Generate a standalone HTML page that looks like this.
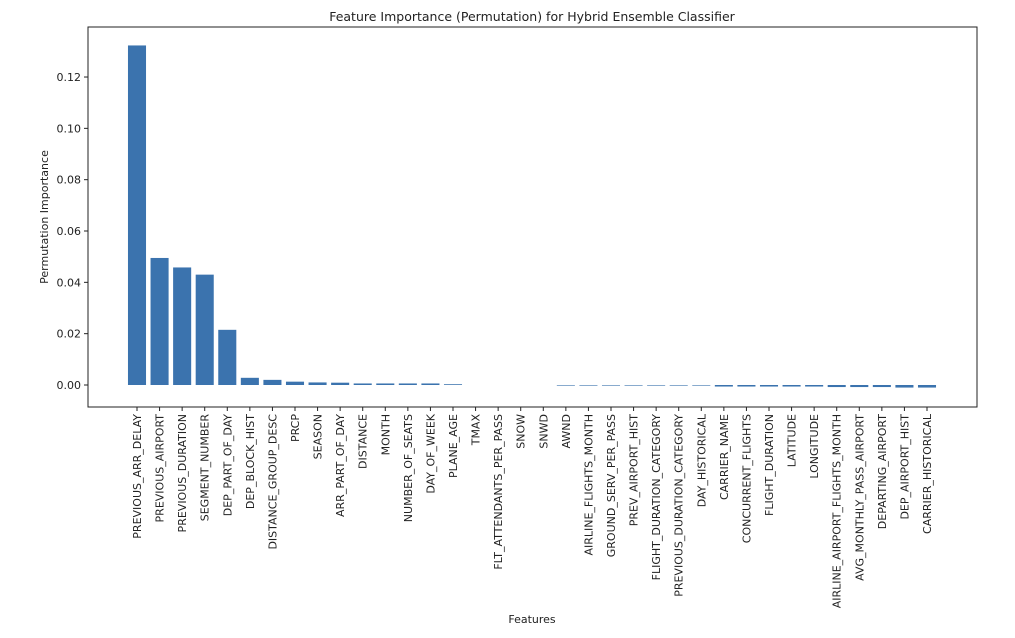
<!DOCTYPE html>
<html><head><meta charset="utf-8"><style>
body{margin:0;background:#fff;font-family:"Liberation Sans","DejaVu Sans",sans-serif;}
svg text{font-family:"DejaVu Sans","Liberation Sans",sans-serif;fill:#222;}
</style></head><body>
<svg id="chart" width="1015" height="633" xmlns="http://www.w3.org/2000/svg">
<text x="532" y="21" font-size="12.5" text-anchor="middle">Feature Importance (Permutation) for Hybrid Ensemble Classifier</text>
<rect x="88" y="27" width="889" height="380" fill="none" stroke="#222" stroke-width="1"/>
<g id="bars"></g><g id="yaxis"></g><g id="xaxis"></g>
<text transform="translate(48,217) rotate(-90)" font-size="11" text-anchor="middle">Permutation Importance</text>
<text x="532" y="623" font-size="11" text-anchor="middle">Features</text>
</svg>
<script>
const categories=["PREVIOUS_ARR_DELAY","PREVIOUS_AIRPORT","PREVIOUS_DURATION","SEGMENT_NUMBER","DEP_PART_OF_DAY","DEP_BLOCK_HIST","DISTANCE_GROUP_DESC","PRCP","SEASON","ARR_PART_OF_DAY","DISTANCE","MONTH","NUMBER_OF_SEATS","DAY_OF_WEEK","PLANE_AGE","TMAX","FLT_ATTENDANTS_PER_PASS","SNOW","SNWD","AWND","AIRLINE_FLIGHTS_MONTH","GROUND_SERV_PER_PASS","PREV_AIRPORT_HIST","FLIGHT_DURATION_CATEGORY","PREVIOUS_DURATION_CATEGORY","DAY_HISTORICAL","CARRIER_NAME","CONCURRENT_FLIGHTS","FLIGHT_DURATION","LATITUDE","LONGITUDE","AIRLINE_AIRPORT_FLIGHTS_MONTH","AVG_MONTHLY_PASS_AIRPORT","DEPARTING_AIRPORT","DEP_AIRPORT_HIST","CARRIER_HISTORICAL"];
const values=[0.1323,0.0495,0.0458,0.0430,0.0215,0.0028,0.0020,0.0013,0.0010,0.0009,0.0006,0.0006,0.0006,0.0006,0.0003,0,0,0,0,-0.0002,-0.0002,-0.0002,-0.0002,-0.0002,-0.0002,-0.0002,-0.0006,-0.0006,-0.0006,-0.0006,-0.0006,-0.0008,-0.0008,-0.0008,-0.0010,-0.0010];
const yTicks=[0.00,0.02,0.04,0.06,0.08,0.10,0.12];
const NS="http://www.w3.org/2000/svg";
function mk(t,a,p){const e=document.createElementNS(NS,t);for(const k in a)e.setAttribute(k,a[k]);p.appendChild(e);return e;}
const y=v=>385-v/0.02*51.33;
const x=i=>137+i*(927-137)/(categories.length-1);
const step=(927-137)/(categories.length-1), bw=step*0.8;
const gb=document.getElementById('bars'),gy=document.getElementById('yaxis'),gx=document.getElementById('xaxis');
values.forEach((v,i)=>{
 if(v===0)return;
 const h=Math.max(Math.abs(y(v)-y(0)),0.6);
 const r=mk('rect',{x:x(i)-bw/2,y:Math.min(y(v),y(0)),width:bw,height:h,fill:'#3b73ae'},gb);
 
 
});
yTicks.forEach(t=>{
 const yy=y(t);
 const l=mk('line',{x1:84,x2:88,y1:yy,y2:yy,stroke:'#222'},gy);
 
 
 const tx=mk('text',{x:81,y:yy+4,'font-size':'11','text-anchor':'end'},gy);
 tx.textContent=t.toFixed(2);
 
 
});
categories.forEach((c,i)=>{
 const xx=x(i);
 const l=mk('line',{x1:xx,x2:xx,y1:407,y2:411,stroke:'#222'},gx);
 
 
 const tx=mk('text',{transform:`translate(${xx+4},414) rotate(-90)`,'font-size':'11','text-anchor':'end'},gx);
 tx.textContent=c;
 
 
});
</script>
</body></html>
